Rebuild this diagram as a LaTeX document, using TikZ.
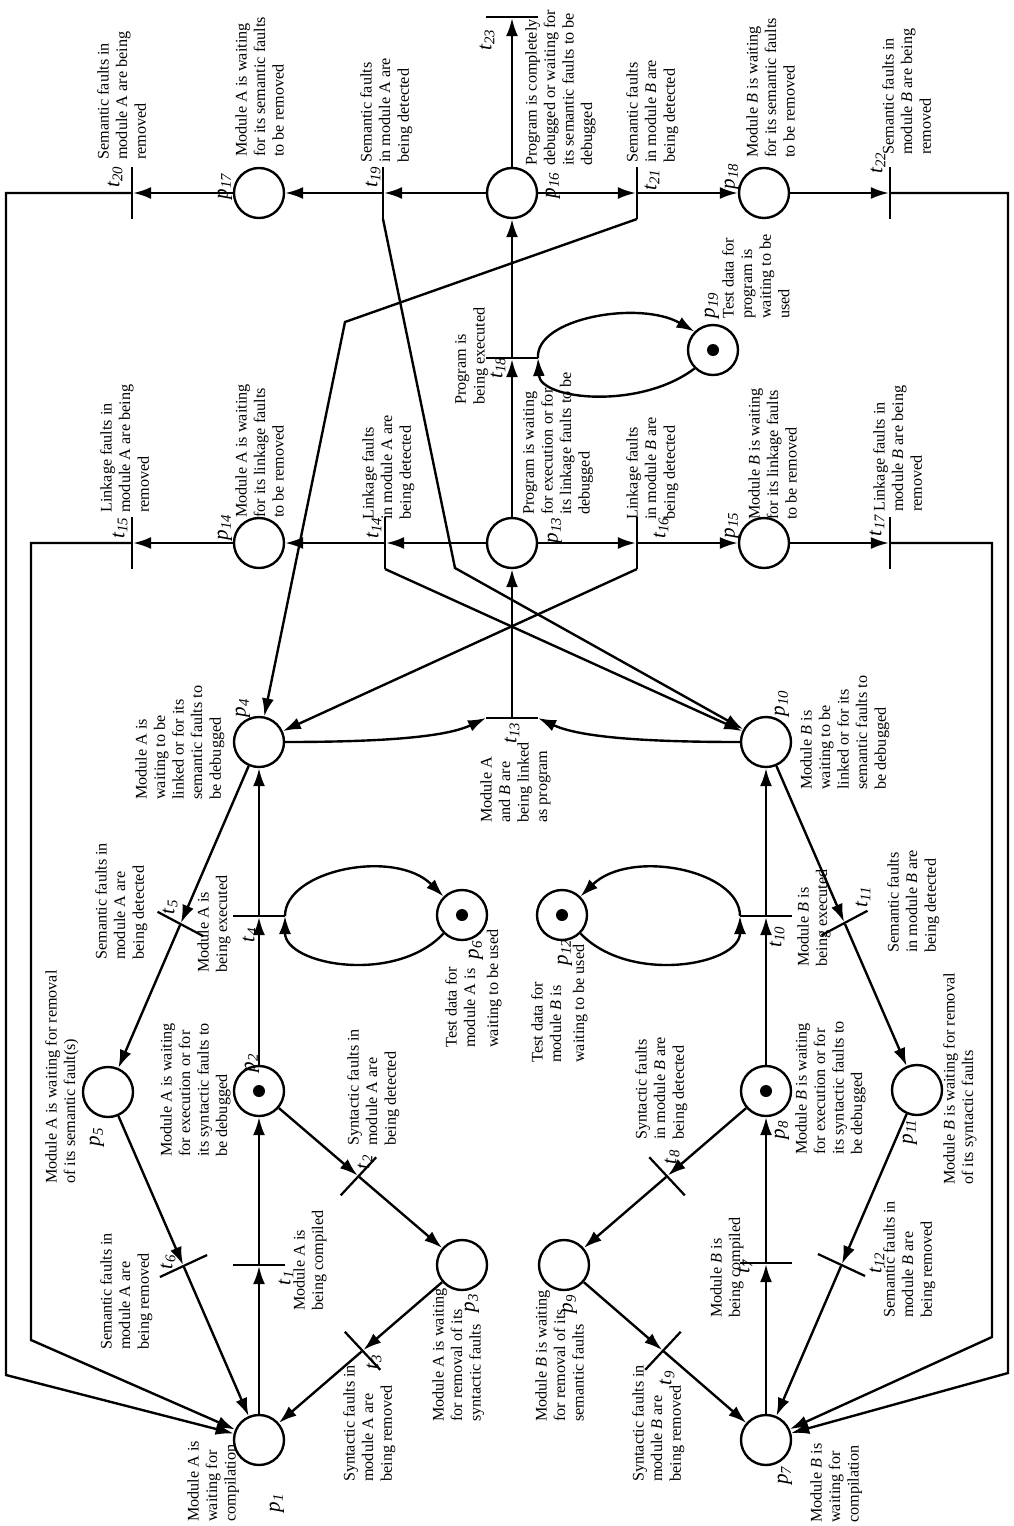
\documentclass[tikz,border=0pt]{standalone}
\usepackage{fontspec}
\setmainfont{Liberation Serif}
\usetikzlibrary{arrows.meta,calc}

\newcommand{\pn}[1]{\textit{p}\textsubscript{\textit{#1}}}
\newcommand{\tn}[1]{\textit{t}\textsubscript{\textit{#1}}}

\tikzset{
  place/.style={circle, draw, line width=1.7pt, minimum size=1.25cm, inner sep=0},
  marked/.style={path picture={\fill (path picture bounding box.center) circle (0.15cm);}},
  hbar/.style={fill, inner sep=0, outer sep=0, minimum width=1.3cm, minimum height=1.6pt},
  vbar/.style={fill, inner sep=0, outer sep=0, minimum width=1.6pt, minimum height=1.3cm},
  arc/.style={line width=1.7pt, -{Latex[length=0.45cm,width=0.3cm]}},
  desc/.style={rotate=90, anchor=north west, align=left, inner sep=0,
    font=\fontsize{11.5}{13.2}\selectfont},
  num/.style={rotate=90, inner sep=0, font=\fontsize{15}{15}\selectfont},
}

\begin{document}
\begin{tikzpicture}[x=0.025cm, y=-0.025cm]
\useasboundingbox (0,0) rectangle (1013,1526);
% Places
\foreach \n/\x/\y in {1/259/1440, 3/462/1265, 4/259/742, 5/108/1092,
    7/766/1440, 9/564/1265, 10/766/742, 11/917/1090,
    13/512/543, 14/259/543, 15/764/543, 16/512/193, 17/259/193, 18/764/193} {
  \node[place] (p\n) at (\x,\y) {};
}
\foreach \n/\x/\y in {2/259/1091, 6/462/915, 8/766/1091, 12/562/915, 19/713/350} {
  \node[place, marked] (p\n) at (\x,\y) {};
}
% Transitions
\foreach \n/\x/\y in {1/259/1265, 4/259/916, 7/766/1263, 10/766/916,
    13/512/718, 18/512/358, 23/512/17} {
  \node[hbar] (t\n) at (\x,\y) {};
}
\foreach \n/\x/\y in {14/385/543, 15/132/543, 16/637/543, 17/890/543,
    19/383/193, 20/132/193, 21/637/193, 22/890/193} {
  \node[vbar] (t\n) at (\x,\y) {};
}
\node[hbar, rotate=-28] (t5) at ($(p4)!0.52!(p5)$) {};
\node[hbar, rotate=25] (t6) at ($(p5)!0.5!(p1)$) {};
\node[hbar, rotate=47] (t2) at ($(p2)!0.49!(p3)$) {};
\node[hbar, rotate=-47] (t3) at ($(p3)!0.49!(p1)$) {};
\node[hbar, rotate=-47] (t8) at ($(p8)!0.49!(p9)$) {};
\node[hbar, rotate=47] (t9) at ($(p9)!0.49!(p7)$) {};
\node[hbar, rotate=28] (t11) at ($(p10)!0.52!(p11)$) {};
\node[hbar, rotate=-25] (t12) at ($(p11)!0.5!(p7)$) {};
% Bends
\coordinate (c20a) at (6,193);
\coordinate (c20b) at (6,1375);
\coordinate (c15a) at (31,543);
\coordinate (c15b) at (31,1340);
\coordinate (c22a) at (1008,193);
\coordinate (c22b) at (1008,1373);
\coordinate (c17a) at (992,543);
\coordinate (c17b) at (992,1337);
\coordinate (k21) at (345,322);
\coordinate (k19) at (455,568);
% Program row
\draw[arc] (p16) -- (t19);
\draw[arc] (t19) -- (p17);
\draw[arc] (p17) -- (t20);
\draw[arc] (t20) -- (c20a) -- (c20b) -- (p1);
\draw[arc] (p16) -- (t21);
\draw[arc] (t21) -- (p18);
\draw[arc] (p18) -- (t22);
\draw[arc] (t22) -- (c22a) -- (c22b) -- (p7);
\draw[arc] (p16) -- (t23);
\draw[arc] (t18) -- (p16);
\draw[arc] (p13) -- (t18);
\draw[arc] (t13) -- (p13);
\draw[arc] (p13) -- (t14);
\draw[arc] (t14) -- (p14);
\draw[arc] (p14) -- (t15);
\draw[arc] (t15) -- (c15a) -- (c15b) -- (p1);
\draw[arc] (p13) -- (t16);
\draw[arc] (t16) -- (p15);
\draw[arc] (p15) -- (t17);
\draw[arc] (t17) -- (c17a) -- (c17b) -- (p7);
\draw[arc] (t21.south) -- (k21) -- (p4);
\draw[arc] (t19.south) -- (k19) -- (p10);
\draw[arc] (t14.south) -- (p10);
\draw[arc] (t16.south) -- (p4);
\draw[arc] (p4.east) .. controls (400,742) and (450,735) .. (t13.west);
\draw[arc] (p10.west) .. controls (625,742) and (575,735) .. (t13.east);
\draw[arc] (t18.east) .. controls (535,318) and (640,300) .. (p19.north west);
\draw[arc] (p19.south west) .. controls (640,410) and (540,400) .. (t18.east);
% Module A
\draw[arc] (p1) -- (t1);
\draw[arc] (t1) -- (p2);
\draw[arc] (p2) -- (t4);
\draw[arc] (t4) -- (p4);
\draw[arc] (p4) -- (t5);
\draw[arc] (t5) -- (p5);
\draw[arc] (p5) -- (t6);
\draw[arc] (t6) -- (p1);
\draw[arc] (p2) -- (t2);
\draw[arc] (t2) -- (p3);
\draw[arc] (p3) -- (t3);
\draw[arc] (t3) -- (p1);
\draw[arc] (t4.east) .. controls (285,870) and (395,848) .. (p6.north west);
\draw[arc] (p6.south west) .. controls (395,985) and (285,965) .. (t4.east);
% Module B
\draw[arc] (p7) -- (t7);
\draw[arc] (t7) -- (p8);
\draw[arc] (p8) -- (t10);
\draw[arc] (t10) -- (p10);
\draw[arc] (p10) -- (t11);
\draw[arc] (t11) -- (p11);
\draw[arc] (p11) -- (t12);
\draw[arc] (t12) -- (p7);
\draw[arc] (p8) -- (t8);
\draw[arc] (t8) -- (p9);
\draw[arc] (p9) -- (t9);
\draw[arc] (t9) -- (p7);
\draw[arc] (t10.west) .. controls (740,870) and (630,848) .. (p12.north east);
\draw[arc] (p12.south east) .. controls (630,985) and (740,965) .. (t10.west);
% Place and transition names
\foreach \n/\x/\y in {1/277/1503, 2/252/1063, 3/472/1303, 4/243/708, 5/97/1137,
    6/476/950, 7/785/1475, 8/782/1130, 9/570/1304, 10/782/703, 11/910/1132,
    12/565/952, 13/555/530, 14/225/527, 15/732/525, 16/553/185, 17/225/186,
    18/732/176, 19/712/305} {
  \node[num] (lp\n) at (\x,\y) {\pn{\n}};
}
\foreach \n/\x/\y in {1/286/1278, 2/365/1162, 3/374/1362, 4/250/935, 5/170/907,
    6/168/1262, 7/745/1266, 8/672/1157, 9/667/1378, 10/777/937, 11/863/897,
    12/877/1263, 13/512/733, 14/374/528, 15/120/528, 16/661/528, 17/877/525,
    18/498/368, 19/373/177, 20/115/177, 21/652/180, 22/878/163, 23/487/40} {
  \node[num] (lt\n) at (\x,\y) {\tn{\n}};
}
% Descriptions
\node[desc] (dt20) at (97,160) {Semantic faults in\\module A are being\\removed};
\node[desc] (dp17) at (235,157) {Module A is waiting\\for its semantic faults\\to be removed};
\node[desc] (dt19) at (360,163) {Semantic faults\\in module A are\\being detected};
\node[desc] (dp16) at (525,166) {Program is completely\\debugged or waiting for\\its semantic faults to be\\debugged};
\node[desc] (dt21) at (626,163) {Semantic faults\\in module \textit{B} are\\being detected};
\node[desc] (dp18) at (746,158) {Module \textit{B} is waiting\\for its semantic faults\\to be removed};
\node[desc] (dt22) at (882,155) {Semantic faults in\\module \textit{B} are being\\removed};
\node[desc] (dp19) at (722,319) {Test data for\\program is\\waiting to be\\used};
\node[desc] (dt18) at (455,405) {Program is\\being executed};
\node[desc] (dp13) at (523,515) {Program is waiting\\for execution or for\\its linkage faults to be\\debugged};
\node[desc] (dt14) at (362,520) {Linkage faults\\in module A are\\being detected};
\node[desc] (dt16) at (626,520) {Linkage faults\\in module \textit{B} are\\being detected};
\node[desc] (dp14) at (235,518) {Module A is waiting\\for its linkage faults\\to be removed};
\node[desc] (dt15) at (100,513) {Linkage faults in\\module A are being\\removed};
\node[desc] (dp15) at (748,520) {Module \textit{B} is waiting\\for its linkage faults\\to be removed};
\node[desc] (dt17) at (873,512) {Linkage faults in\\module \textit{B} are being\\removed};
\node[desc] (dp4) at (135,800) {Module A is\\waiting to be\\linked or for its\\semantic faults to\\be debugged};
\node[desc] (dp10) at (800,790) {Module \textit{B} is\\waiting to be\\linked or for its\\semantic faults to\\be debugged};
\node[desc] (dt13) at (480,823) {Module A\\and \textit{B} are\\being linked\\as program};
\node[desc] (dt5) at (95,960) {Semantic faults in\\module A are\\being detected};
\node[desc] (dt4) at (197,973) {Module A is\\being executed};
\node[desc] (dt10) at (797,967) {Module \textit{B} is\\being executed};
\node[desc] (dt11) at (887,953) {Semantic faults\\in module \textit{B} are\\being detected};
\node[desc] (dp6) at (445,1048) {Test data for\\module A is\\[3pt]waiting to be used};
\node[desc] (dp12) at (531,1063) {Test data for\\module \textit{B} is\\[3pt]waiting to be used};
\node[desc] (dp5) at (45,1184) {Module A is waiting for removal\\of its semantic fault(s)};
\node[desc] (dp2) at (160,1157) {Module A is waiting\\for execution or for\\its syntactic faults to\\be debugged};
\node[desc] (dt2) at (347,1146) {Syntactic faults in\\module A are\\being detected};
\node[desc] (dt8) at (635,1140) {Syntactic faults\\in module \textit{B} are\\being detected};
\node[desc] (dp8) at (795,1155) {Module \textit{B} is waiting\\for execution or for\\its syntactic faults to\\be debugged};
\node[desc] (dp11) at (943,1185) {Module \textit{B} is waiting for removal\\of its syntactic faults};
\node[desc] (dt1) at (293,1311) {Module A is\\being compiled};
\node[desc] (dt6) at (100,1350) {Semantic faults in\\module A are\\being removed};
\node[desc] (dp3) at (432,1422) {Module A is waiting\\for removal of its\\syntactic faults};
\node[desc] (dp9) at (535,1422) {Module \textit{B} is waiting\\for removal of its\\semantic faults};
\node[desc] (dt3) at (343,1482) {Syntactic faults in\\module A are\\being removed};
\node[desc] (dt9) at (632,1482) {Syntactic faults in\\module \textit{B} are\\being removed};
\node[desc] (dt7) at (710,1318) {Module \textit{B} is\\being compiled};
\node[desc] (dt12) at (883,1318) {Semantic faults in\\module \textit{B} are\\being removed};
\node[desc] (dp1) at (187,1522) {Module A is\\waiting for\\compilation};
\node[desc] (dp7) at (810,1523) {Module \textit{B} is\\waiting for\\compilation};
\end{tikzpicture}
\end{document}
